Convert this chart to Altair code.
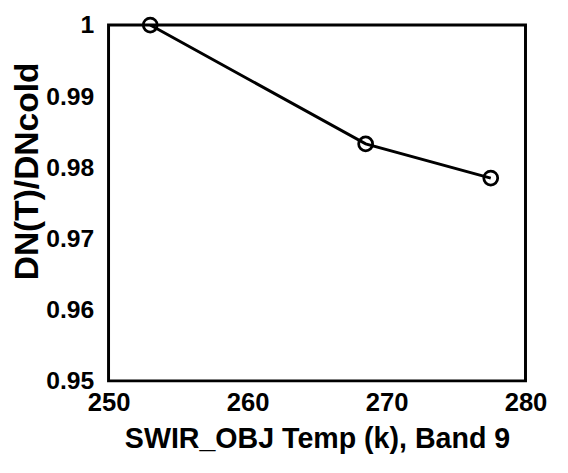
import altair as alt
import pandas as pd

temps = [253.0, 268.5, 277.5]
ratios = [1.0, 0.9833, 0.9785]
x_ticks = [250, 260, 270, 280]
y_ticks = [0.95, 0.96, 0.97, 0.98, 0.99, 1.0]

df = pd.DataFrame({"temp": temps, "ratio": ratios})

FONT = "Liberation Sans"

x_enc = alt.X(
    "temp:Q",
    scale=alt.Scale(domain=[250, 280], nice=False, zero=False),
    axis=alt.Axis(
        values=x_ticks,
        title="SWIR_OBJ Temp (k), Band 9",
        grid=False,
        ticks=False,
        domain=False,
        labelFont=FONT,
        labelFontSize=26,
        labelFontWeight="bold",
        labelColor="black",
        labelPadding=9,
        labelFlush=False,
        titleFont=FONT,
        titleFontSize=29,
        titleFontWeight="bold",
        titleColor="black",
        titlePadding=10,
    ),
)
y_enc = alt.Y(
    "ratio:Q",
    scale=alt.Scale(domain=[0.95, 1.0], nice=False, zero=False),
    axis=alt.Axis(
        values=y_ticks,
        format="~g",
        title="DN(T)/DNcold",
        grid=False,
        ticks=False,
        domain=False,
        labelFont=FONT,
        labelFontSize=25,
        labelFontWeight="bold",
        labelColor="black",
        labelPadding=15,
        labelFlush=False,
        titleFont=FONT,
        titleFontSize=34,
        titleFontWeight="bold",
        titleColor="black",
        titleAngle=270,
        titleAlign="center",
        titleBaseline="middle",
        titleX=-82,
        titleY=148,
    ),
)

line = alt.Chart(df).mark_line(color="black", strokeWidth=3).encode(x=x_enc, y=y_enc)
pts = alt.Chart(df).mark_point(
    shape="circle", filled=False, color="black", size=200, strokeWidth=2.8, opacity=1
).encode(x="temp:Q", y="ratio:Q")

chart = (
    alt.layer(line, pts)
    .properties(
        width=423,
        height=361,
        autosize=alt.AutoSizeParams(type="none"),
        padding={"left": 102, "top": 14, "right": 35, "bottom": 80},
        background="white",
    )
    .configure_view(stroke="black", strokeWidth=3)
)

chart.save("out.html", embed_options={"renderer": "svg", "actions": False})
